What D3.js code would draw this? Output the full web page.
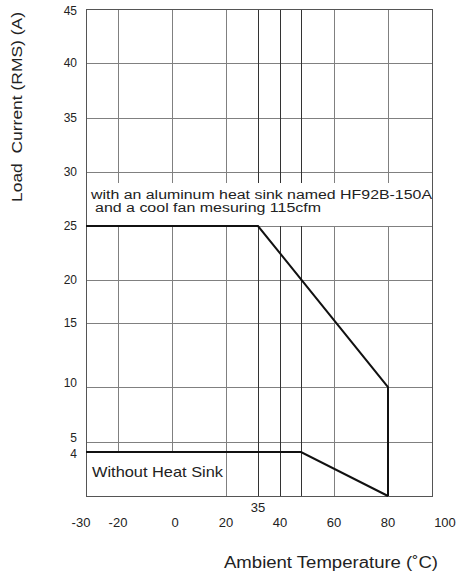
<!DOCTYPE html>
<html>
<head>
<meta charset="utf-8">
<script src="https://cdn.jsdelivr.net/npm/d3@7"></script>
<style>
  body { margin: 0; background: #fff; }
  text { font-family: "Liberation Sans", Arial, sans-serif; fill: #222; }
</style>
</head>
<body>
<svg id="chart" width="457" height="579"></svg>
<script>
// x ticks (ambient temperature, °C) and y ticks (load current, A)
const xTicks = [-30, -20, 0, 20, 35, 40, 60, 80, 100];
const xGrid = [-20, 0, 20, 35, 40, 50, 60, 80];
const yTicks = [45, 40, 35, 30, 25, 20, 15, 10, 5, 4];
const yGrid = [40, 35, 30, 25, 20, 15, 10, 5];

// derating curves
const heatSinkCurve = [[-30, 25], [35, 25], [80, 10], [80, 0]];
const noSinkCurve = [[-30, 4], [50, 4], [80, 0]];

// the printed chart's axes are not evenly spaced, so map piecewise
const x = d3.scaleLinear()
    .domain([-30, -20, 0, 20, 35, 40, 50, 60, 80, 100])
    .range([86, 118, 172, 226, 258, 280, 301, 334, 388, 432]);
const y = d3.scaleLinear()
    .domain([0, 4, 5, 10, 15, 20, 25, 30, 35, 40, 45])
    .range([496, 452, 442, 387, 323, 280, 226, 172, 118, 63, 9]);

const svg = d3.select("#chart");
const px = v => Math.round(v) + 0.5;

const grid = svg.append("g");

// horizontal grid
grid.selectAll("line.h")
    .data(yGrid)
    .enter().append("line")
    .attr("x1", x(-30)).attr("x2", x(100))
    .attr("y1", d => px(y(d))).attr("y2", d => px(y(d)))
    .attr("stroke", "#808080").attr("stroke-width", 1);

// vertical grid (35/40/50 printed darker)
grid.selectAll("line.v")
    .data(xGrid)
    .enter().append("line")
    .attr("x1", d => px(x(d))).attr("x2", d => px(x(d)))
    .attr("y1", y(45)).attr("y2", y(0))
    .attr("stroke", d => (d === 35 || d === 40 || d === 50) ? "#333" : "#808080")
    .attr("stroke-width", 1);

// white boxes behind the annotations
svg.append("rect")
    .attr("x", x(-30) + 1).attr("y", 183)
    .attr("width", x(100) - x(-30) - 2).attr("height", y(25) - 183)
    .attr("fill", "#fff");
svg.append("rect")
    .attr("x", x(-30) + 1).attr("y", y(4))
    .attr("width", x(20) - x(-30) - 2).attr("height", y(0) - y(4))
    .attr("fill", "#fff");

// frame
svg.append("rect")
    .attr("x", px(x(-30))).attr("y", px(y(45)))
    .attr("width", Math.round(x(100) - x(-30))).attr("height", Math.round(y(0) - y(45)))
    .attr("fill", "none").attr("stroke", "#555").attr("stroke-width", 1);

// curves
const line = d3.line().x(d => x(d[0])).y(d => y(d[1]));
svg.append("path").datum(heatSinkCurve)
    .attr("d", line)
    .attr("fill", "none").attr("stroke", "#111").attr("stroke-width", 2);
svg.append("path").datum(noSinkCurve)
    .attr("d", line)
    .attr("fill", "none").attr("stroke", "#111").attr("stroke-width", 2);

// y tick labels (5 and 4 pushed apart like the print)
const yNudge = {"45": 2, "10": -4, "5": -4, "4": 2};
svg.selectAll("text.yt")
    .data(yTicks)
    .enter().append("text")
    .attr("x", 77)
    .attr("y", d => y(d) + (yNudge[d] || 0))
    .attr("dy", "0.35em")
    .attr("text-anchor", "end")
    .attr("font-size", 12)
    .text(d => d);

// x tick labels
const nudge = {"-30": -5, "0": 3, "100": 13};
svg.selectAll("text.xt")
    .data(xTicks)
    .enter().append("text")
    .attr("x", d => x(d) + (nudge[d] || 0))
    .attr("y", d => d === 35 ? 512 : 527)
    .attr("text-anchor", "middle")
    .attr("font-size", 13)
    .text(d => d);

// annotations
svg.append("text")
    .attr("x", 91).attr("y", 199)
    .attr("font-size", 12.5)
    .attr("textLength", 341).attr("lengthAdjust", "spacingAndGlyphs")
    .text("with an aluminum heat sink named HF92B-150A");
svg.append("text")
    .attr("x", 95).attr("y", 212)
    .attr("font-size", 12.5)
    .attr("textLength", 226).attr("lengthAdjust", "spacingAndGlyphs")
    .text("and a cool fan mesuring 115cfm");
svg.append("text")
    .attr("x", 92).attr("y", 477)
    .attr("font-size", 15)
    .attr("textLength", 131).attr("lengthAdjust", "spacingAndGlyphs")
    .text("Without Heat Sink");

// axis titles
svg.append("text")
    .attr("x", 224).attr("y", 568)
    .attr("font-size", 16)
    .attr("textLength", 214).attr("lengthAdjust", "spacingAndGlyphs")
    .text("Ambient Temperature (˚C)");
svg.append("text")
    .attr("transform", "translate(22,202) rotate(-90)")
    .attr("font-size", 15)
    .style("white-space", "pre")
    .attr("textLength", 190).attr("lengthAdjust", "spacingAndGlyphs")
    .text("Load  Current (RMS) (A)");
</script>
</body>
</html>
